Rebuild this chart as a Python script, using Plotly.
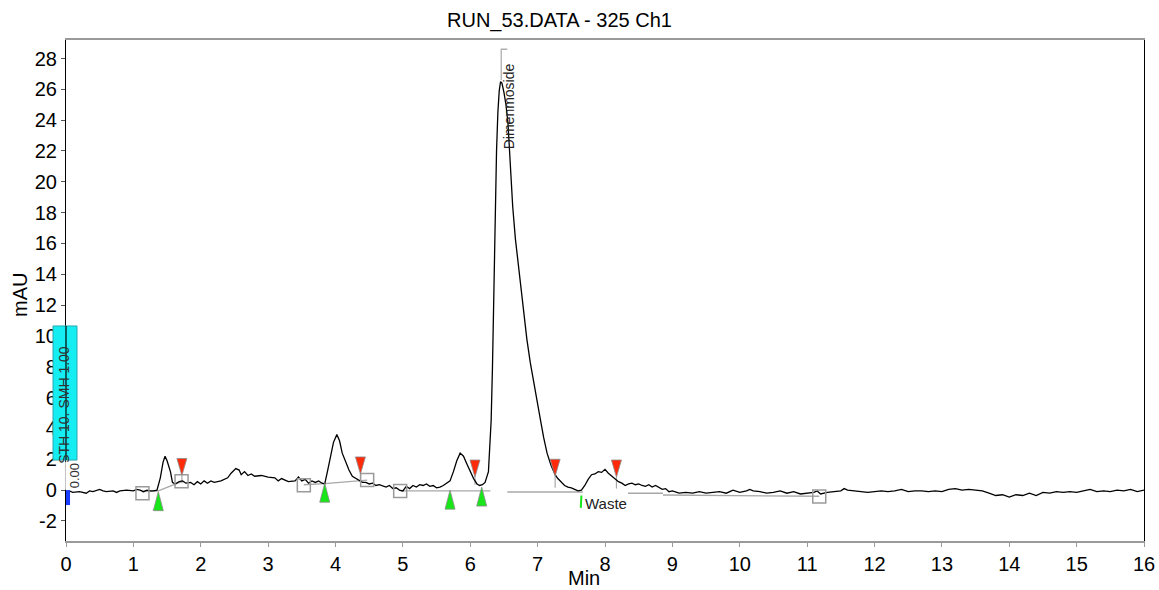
import plotly.graph_objects as go

# ---------------- data ----------------
time_min = [
    0.00, 0.05, 0.10, 0.20, 0.30, 0.35, 0.40, 0.50, 0.55, 0.60, 0.70, 0.75, 0.80, 0.90, 1.00,
    1.05, 1.10, 1.15, 1.20, 1.25, 1.30, 1.35,
    1.40, 1.44, 1.47, 1.50, 1.55, 1.58, 1.62, 1.68, 1.73, 1.78, 1.85, 1.90, 1.95, 2.00, 2.05,
    2.10, 2.15, 2.20, 2.30, 2.35, 2.40, 2.45, 2.52, 2.57, 2.60, 2.65, 2.70, 2.75, 2.80, 2.90,
    3.00, 3.10, 3.15, 3.20, 3.30, 3.40, 3.45, 3.50, 3.55, 3.60, 3.65, 3.70, 3.75, 3.80, 3.84,
    3.88, 3.93, 3.97, 4.02, 4.06, 4.10, 4.15, 4.20, 4.25, 4.30, 4.35, 4.40, 4.45, 4.50, 4.55,
    4.60, 4.65, 4.70, 4.75, 4.80, 4.85, 4.90, 4.95, 5.00, 5.05, 5.10, 5.15, 5.20, 5.25, 5.30,
    5.35, 5.40, 5.45, 5.50, 5.55, 5.60, 5.65, 5.70,
    5.75, 5.80, 5.85, 5.90, 5.95, 6.00, 6.05, 6.10, 6.14, 6.18, 6.22,
    6.27, 6.29, 6.31, 6.33, 6.35, 6.37, 6.39, 6.41, 6.43, 6.45, 6.47, 6.50, 6.53, 6.56, 6.59,
    6.63, 6.67, 6.71, 6.75, 6.79, 6.84, 6.89, 6.94, 6.99, 7.04, 7.09, 7.14, 7.20, 7.26, 7.30,
    7.35, 7.40, 7.45, 7.50, 7.55, 7.60, 7.65, 7.70,
    7.75, 7.80, 7.85, 7.90, 7.95, 8.00, 8.05, 8.10, 8.15, 8.20, 8.25, 8.30, 8.35, 8.40, 8.45,
    8.50, 8.55, 8.60, 8.65, 8.70, 8.75, 8.80, 8.85, 8.90, 8.95, 9.00, 9.10, 9.20, 9.30, 9.40,
    9.50, 9.60, 9.70, 9.80, 9.90, 10.00, 10.10, 10.15, 10.20, 10.30, 10.40, 10.50, 10.60, 10.70,
    10.80, 10.90, 11.00, 11.10, 11.15, 11.20, 11.30, 11.40, 11.50, 11.55, 11.60, 11.70, 11.80,
    11.90, 12.00, 12.10, 12.20, 12.30, 12.40, 12.50, 12.60, 12.70, 12.80, 12.90, 13.00, 13.10,
    13.20, 13.30, 13.40, 13.50, 13.60, 13.70, 13.80, 13.90, 14.00, 14.10, 14.20, 14.30, 14.40,
    14.50, 14.60, 14.70, 14.80, 14.90, 15.00, 15.10, 15.20, 15.30, 15.40, 15.50, 15.60, 15.70,
    15.80, 15.90, 16.00,
]
signal_mau = [
    -0.10, -0.05, -0.15, -0.10, -0.20, -0.05, -0.10, 0.05, -0.05, -0.10, -0.05, -0.15, -0.05, 0.00, -0.05,
    0.05, 0.00, -0.10, 0.00, -0.05, -0.05, 0.00,
    0.80, 1.80, 2.20, 1.90, 1.20, 0.50, 0.40, 0.55, 0.60, 0.45, 0.50, 0.35, 0.55, 0.40, 0.60,
    0.45, 0.60, 0.50, 0.60, 0.70, 0.80, 1.10, 1.40, 1.30, 1.00, 1.20, 0.95, 1.05, 0.90, 0.95,
    0.85, 0.80, 0.60, 0.75, 0.55, 0.60, 0.85, 0.60, 0.70, 0.45, 0.60, 0.50, 0.60, 0.45, 0.40,
    1.20, 2.20, 3.10, 3.60, 3.20, 2.40, 1.80, 1.30, 0.90, 0.75, 0.60, 0.50, 0.50, 0.40, 0.45,
    0.30, 0.35, 0.25, 0.20, 0.30, 0.10, 0.15, 0.00, -0.05, 0.25, 0.10, 0.30, 0.20, 0.35, 0.30,
    0.40, 0.25, 0.30, 0.15, 0.20, 0.30, 0.45, 0.60,
    1.20, 1.90, 2.40, 2.20, 1.70, 1.20, 0.75, 0.40, 0.30, 0.35, 0.50,
    1.20, 2.50, 4.50, 8.00, 13.00, 18.50, 22.00, 24.50, 25.90, 26.50, 26.40, 25.80, 25.00, 23.80, 21.60,
    18.40, 16.30, 14.80, 13.10, 11.50, 9.80, 8.30, 7.00, 5.80, 4.60, 3.40, 2.40, 1.60, 1.00, 0.75,
    0.55, 0.30, 0.20, 0.15, 0.05, -0.05, 0.00, 0.30,
    0.70, 1.00, 1.05, 1.20, 1.15, 1.35, 1.10, 0.90, 0.70, 0.55, 0.45, 0.30, 0.40, 0.45, 0.35,
    0.40, 0.30, 0.25, 0.35, 0.20, 0.30, 0.15, 0.05, 0.10, -0.10, -0.05, -0.20, -0.15, -0.20, -0.10,
    -0.20, -0.15, -0.10, -0.20, 0.00, -0.15, -0.05, 0.05, -0.05, -0.10, -0.20, -0.15, -0.05, -0.20,
    -0.10, -0.25, -0.20, -0.15, -0.05, -0.25, -0.15, -0.10, -0.05, 0.10, 0.00, -0.05, -0.10,
    -0.15, -0.10, -0.05, -0.10, -0.05, 0.05, -0.10, -0.05, -0.05, -0.10, -0.05, -0.10, 0.05,
    0.10, 0.00, 0.05, 0.00, -0.05, -0.20, -0.35, -0.30, -0.45, -0.30, -0.35, -0.20, -0.35,
    -0.15, -0.20, -0.10, -0.15, -0.10, -0.15, -0.05, 0.05, -0.10, -0.05, -0.10, 0.00, -0.05,
    0.05, -0.10, 0.00,
]

# peak start (green) and peak end (red) event markers
start_t = [1.37, 3.84, 5.70, 6.17]
start_y = [-0.10, 0.45, 0.00, 0.20]
end_t = [1.72, 4.37, 6.07, 7.26, 8.17]
end_y = [0.95, 1.05, 0.85, 0.90, 0.85]
end_stem_y = [0.45, 0.50, 0.35, 0.15, 0.10]

# hollow square baseline points
square_t = [1.135, 1.715, 3.53, 4.47, 4.96, 11.18]
square_y = [-0.20, 0.58, 0.32, 0.65, -0.05, -0.42]

# integration baselines
baseline_t = [
    [1.135, 1.37, 1.715],
    [3.53, 3.84, 4.47],
    [4.96, 6.30],
    [6.55, 7.67],
    [8.34, 8.86],
    [8.86, 11.18],
]
baseline_y = [
    [-0.10, -0.05, 0.55],
    [0.35, 0.42, 0.65],
    [-0.05, -0.05],
    [-0.12, -0.12],
    [-0.20, -0.20],
    [-0.32, -0.40],
]

peak_name = "Dimenmoside"
peak_t = 6.46
peak_y = 26.6
peak_mark_y = 28.6

waste_label = "Waste"
waste_t = 7.68
waste_y = -0.85

title_text = "RUN_53.DATA - 325 Ch1"
x_title = "Min"
y_title = "mAU"
box_text = "STH 10. SMH 1.00"
zero_text = "0.00"
y_ticks = list(range(-2, 29, 2))
x_ticks = list(range(0, 17))

FONT = "Liberation Sans, Arial, sans-serif"

FIG_W, FIG_H = 1159, 590
ML, MR, MT, MB = 66, 15, 40, 49
PLOT_W = FIG_W - ML - MR
PLOT_H = FIG_H - MT - MB

fig = go.Figure()

# baselines (grey)
for bt, by in zip(baseline_t, baseline_y):
    fig.add_trace(go.Scatter(x=bt, y=by, mode="lines",
                             line=dict(color="#a8a8a8", width=1.4),
                             hoverinfo="skip", showlegend=False))

# stems below red markers
for t, y0, y1 in zip(end_t, end_y, end_stem_y):
    fig.add_trace(go.Scatter(x=[t, t], y=[y0, y1], mode="lines",
                             line=dict(color="#a8a8a8", width=1.2),
                             hoverinfo="skip", showlegend=False))

# peak bracket
fig.add_trace(go.Scatter(x=[peak_t, peak_t, peak_t + 0.09], y=[peak_y, peak_mark_y, peak_mark_y],
                         mode="lines", line=dict(color="#b0b0b0", width=1.3),
                         hoverinfo="skip", showlegend=False))

# chromatogram
fig.add_trace(go.Scatter(x=time_min, y=signal_mau, mode="lines",
                         line=dict(color="black", width=1.3),
                         showlegend=False))

# squares
fig.add_trace(go.Scatter(x=square_t, y=square_y, mode="markers",
                         marker=dict(symbol="square-open", size=13,
                                     color="#9a9a9a", line=dict(width=1.5, color="#9a9a9a")),
                         hoverinfo="skip", showlegend=False))

shapes = []
# green up triangles (tip at anchor, body below)
for t, y in zip(start_t, start_y):
    shapes.append(dict(type="path", xref="x", yref="y", xsizemode="pixel", ysizemode="pixel",
                       xanchor=t, yanchor=y, path="M0,0 L-5,-19 L5,-19 Z",
                       fillcolor="#19e619", line=dict(color="#8a8a8a", width=0.8), layer="above"))
# red down triangles (tip at anchor, body above)
for t, y in zip(end_t, end_y):
    shapes.append(dict(type="path", xref="x", yref="y", xsizemode="pixel", ysizemode="pixel",
                       xanchor=t, yanchor=y, path="M0,0 L-5,17 L5,17 Z",
                       fillcolor="#ff2a0a", line=dict(color="#8a8a8a", width=0.8), layer="above"))
# small green tick at waste event
shapes.append(dict(type="line", xref="x", yref="y", x0=waste_t - 0.04, x1=waste_t - 0.03,
                   y0=-1.15, y1=-0.35, line=dict(color="#19e619", width=2), layer="above"))
# blue marker at origin
shapes.append(dict(type="rect", xref="x", yref="y", x0=0, x1=0.06, y0=0, y1=-0.97,
                   fillcolor="#1a3cff", line=dict(width=0), layer="above"))
# cyan box
shapes.append(dict(type="rect", xref="paper", yref="y", x0=-13 / PLOT_W, x1=11 / PLOT_W,
                   y0=1.95, y1=10.65,
                   fillcolor="#14eef2", line=dict(color="#2aa8b0", width=1), layer="above"))
# y axis line across the box
shapes.append(dict(type="line", xref="paper", yref="y", x0=0, x1=0, y0=1.95, y1=10.65,
                   line=dict(color="black", width=1.2), layer="above"))

annotations = [
    dict(text=title_text, xref="paper", yref="paper", x=(559 - 66) / PLOT_W, y=1.0, yshift=20,
         xanchor="center", yanchor="middle", showarrow=False,
         font=dict(family=FONT, size=20, color="black")),
    dict(text=x_title, xref="paper", yref="paper", x=(583.5 - 66) / PLOT_W, y=0, yshift=-37,
         xanchor="center", yanchor="middle", showarrow=False,
         font=dict(family=FONT, size=20, color="black")),
    dict(text=y_title, xref="paper", yref="paper", x=0, xshift=-46, y=(541 - 295) / PLOT_H,
         xanchor="center", yanchor="middle", textangle=-90, showarrow=False,
         font=dict(family=FONT, size=20, color="black")),
    dict(text=peak_name, x=peak_t + 0.115, y=24.9, xref="x", yref="y",
         textangle=-90, showarrow=False, xanchor="center", yanchor="middle",
         font=dict(family=FONT, size=14, color="#222")),
    dict(text=waste_label, x=waste_t, y=waste_y, xref="x", yref="y",
         showarrow=False, xanchor="left", yanchor="middle",
         font=dict(family=FONT, size=15, color="#222")),
    dict(text=box_text, xref="paper", yref="y", x=-1.5 / PLOT_W, y=5.5,
         textangle=-90, showarrow=False, xanchor="center", yanchor="middle",
         font=dict(family=FONT, size=14, color="#333")),
    dict(text=zero_text, xref="paper", yref="y", x=8 / PLOT_W, y=0.9,
         textangle=-90, showarrow=False, xanchor="center", yanchor="middle",
         bgcolor="white", font=dict(family=FONT, size=13, color="#333")),
]

fig.update_layout(
    width=FIG_W, height=FIG_H,
    margin=dict(l=ML, r=MR, t=MT, b=MB, autoexpand=False),
    paper_bgcolor="white", plot_bgcolor="white",
    shapes=shapes, annotations=annotations,
    xaxis=dict(range=[0, 16], tickvals=x_ticks, ticktext=[str(v) for v in x_ticks],
               showgrid=False, zeroline=False, showline=True, mirror=True,
               linecolor="#9a9a9a", linewidth=1.5, ticks="outside", ticklen=4,
               tickcolor="#9a9a9a", tickfont=dict(family=FONT, size=20, color="black")),
    yaxis=dict(range=[-3.3, 29.2], tickvals=y_ticks, ticktext=[str(v) for v in y_ticks],
               showgrid=False, zeroline=False, showline=True, mirror=True,
               linecolor="black", linewidth=1.2, ticks="outside", ticklen=4,
               tickcolor="#555", tickfont=dict(family=FONT, size=20, color="black")),
)

# remove the page's default body margin and scrollbars so the figure fills the window
page_css = ("document.body.style.margin='0';"
            "document.body.style.overflow='hidden';"
            "document.documentElement.style.overflow='hidden';")
fig.write_html("out.html", post_script=page_css, config={"displayModeBar": False})
